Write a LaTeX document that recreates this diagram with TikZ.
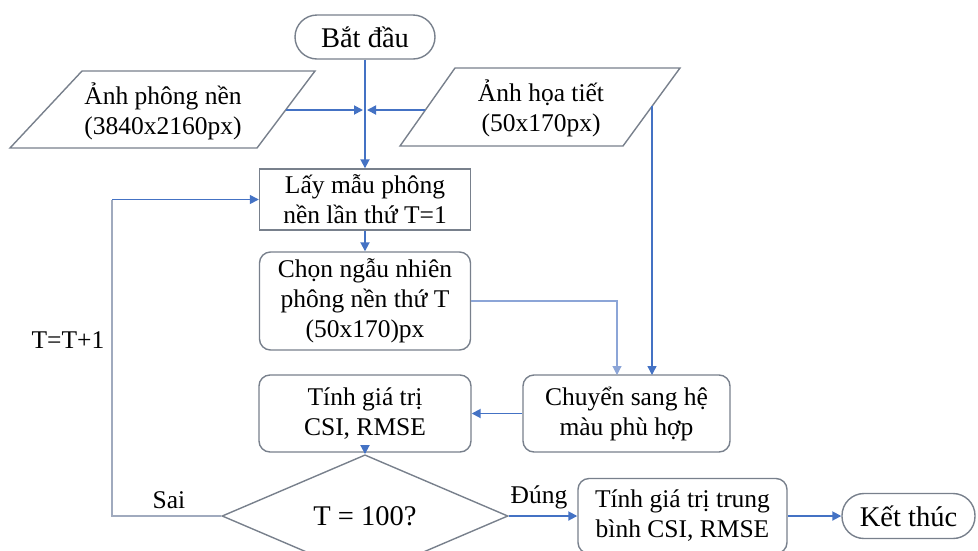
\documentclass[tikz,border=0pt]{standalone}
\usepackage{fontspec}
\setmainfont{Liberation Serif}
\usetikzlibrary{shapes.geometric,arrows.meta,calc}
\definecolor{lblue}{RGB}{68,114,196}
\definecolor{pblue}{RGB}{140,165,215}
\definecolor{bgray}{RGB}{120,128,140}
\definecolor{lgray}{RGB}{160,170,190}
\tikzset{
  box/.style={draw=bgray, line width=1.4pt, align=center, inner sep=0pt,
    font=\fontsize{25.5}{30}\selectfont},
  rbox/.style={box, rounded corners=11pt},
  termbox/.style={box, rounded corners=22pt, font=\fontsize{28.5}{32}\selectfont},
  txt/.style={align=center, inner sep=0pt, font=\fontsize{25.5}{30}\selectfont},
  conn/.style={draw=lblue, line width=1.8pt, -{Triangle[length=9pt,width=9pt]}},
  thinconn/.style={conn, line width=1.1pt, draw=pblue}
}
\begin{document}
\begin{tikzpicture}[x=1pt,y=-1pt]
\useasboundingbox (0,0) rectangle (978,550);
% start
\node[termbox, minimum width=140pt, minimum height=44pt] (start) at (365,37) {Bắt đầu};
% input parallelograms
\draw[draw=bgray, line width=1.4pt] (82,71) -- (315,71) -- (257,148) -- (10,148) -- cycle;
\node[txt] (bg) at (163,111) {Ảnh phông nền\\(3840x2160px)};
\draw[draw=bgray, line width=1.4pt] (455,68) -- (680,68) -- (623,146) -- (400,146) -- cycle;
\node[txt] (ht) at (541,108) {Ảnh họa tiết\\(50x170px)};
\coordinate (bgR) at (286,110);
\coordinate (htL) at (425,110);
\coordinate (htR) at (652,106);
\coordinate (jL) at (363,110);
\coordinate (jR) at (367,110);
% process boxes
\node[box, minimum width=211pt, minimum height=61pt] (lay) at (365,199.5) {Lấy mẫu phông\\nền lần thứ T=1};
\node[rbox, minimum width=211pt, minimum height=98pt] (chon) at (365,301) {Chọn ngẫu nhiên\\phông nền thứ T\\(50x170)px};
\node[rbox, minimum width=212pt, minimum height=77pt] (tinh) at (365,413.5) {Tính giá trị\\CSI, RMSE};
\node[rbox, minimum width=207pt, minimum height=77pt] (chuyen) at (626.5,413.5) {Chuyển sang hệ\\màu phù hợp};
\node[draw=bgray, line width=1.4pt, diamond, inner sep=0pt, minimum width=286pt, minimum height=72pt,
  font=\fontsize{28.5}{32}\selectfont] (dec) at (365,516) {T = 100?};
\node[rbox, minimum width=209pt, minimum height=75pt] (tb) at (682.5,516) {Tính giá trị trung\\bình CSI, RMSE};
\node[termbox, minimum width=133pt, minimum height=45pt] (end) at (908.5,516) {Kết thúc};
\coordinate (c1) at (617,375);
\coordinate (c2) at (652,375);
\coordinate (lpt) at (112,199.5);
% connectors
\draw[conn] (start.south) -- (lay.north);
\draw[conn] (bgR) -- (jL);
\draw[conn] (htL) -- (jR);
\draw[conn] (lay.south) -- (chon.north);
\draw[thinconn] (chon.east) -| (c1);
\draw[conn, line width=1.4pt] (htR) -- (c2);
\draw[conn] (chuyen.west) -- (tinh.east);
\draw[conn] (tinh.south) -- (dec.north);
\draw[conn] (dec.east) -- (tb.west);
\draw[conn] (tb.east) -- (end.west);
\draw[draw=lgray, line width=1.3pt] (dec.west) -| (lpt);
\draw[conn, line width=1.4pt] (lpt) -- (lay.west);
% labels
\node[txt] (sai) at (169,500) {Sai};
\node[txt] (dung) at (539,497) {Đúng};
\node[txt] (inc) at (68,340) {T=T+1};
\end{tikzpicture}
\end{document}
